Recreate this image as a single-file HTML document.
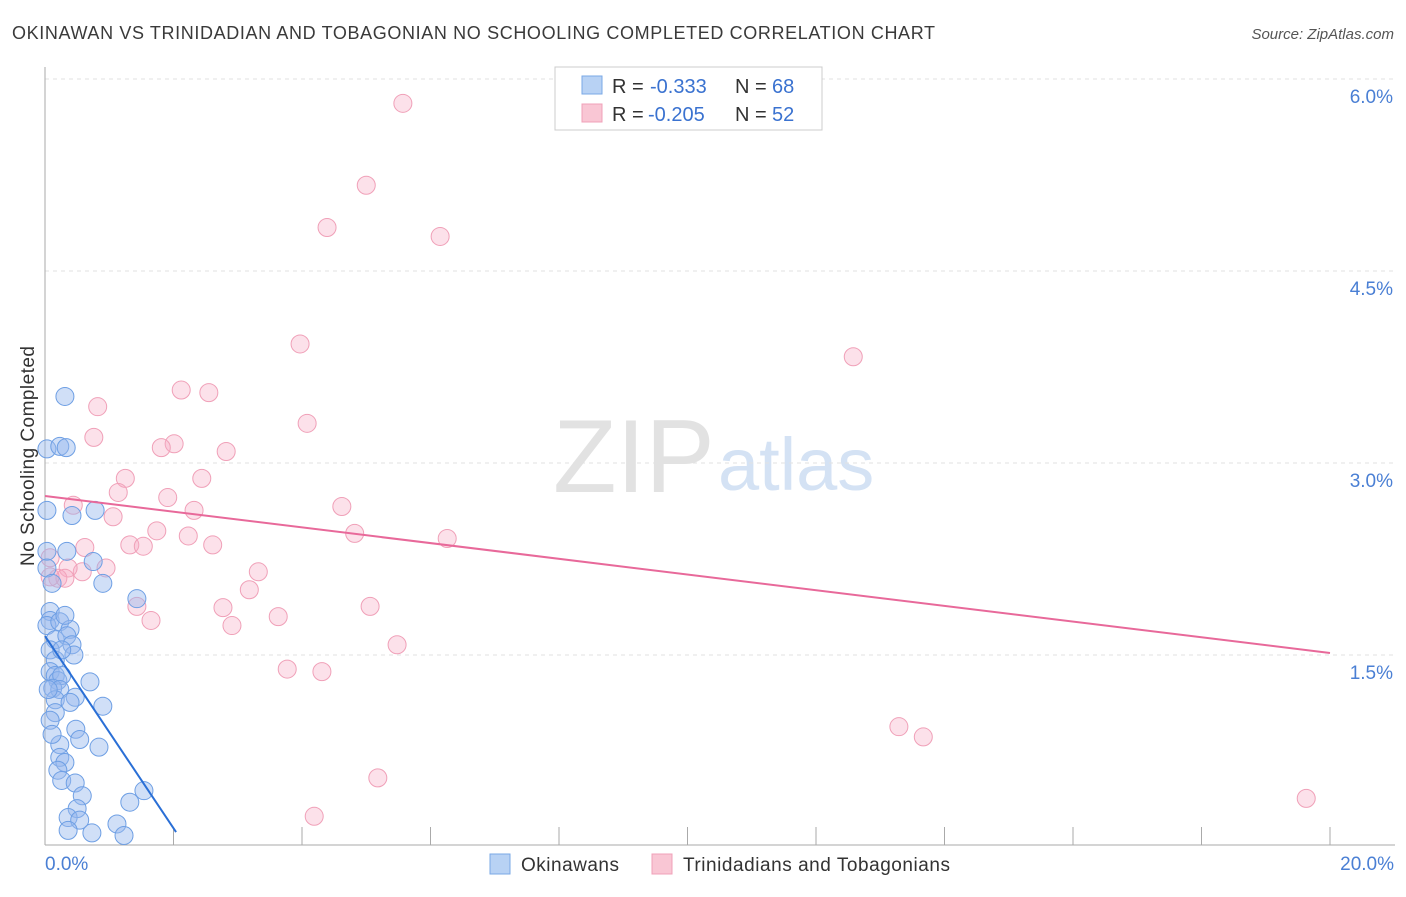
<!DOCTYPE html>
<html><head><meta charset="utf-8"><style>
body{margin:0;background:#fff;font-family:"Liberation Sans",sans-serif;}
svg text{font-family:"Liberation Sans",sans-serif;}
</style></head><body>
<svg width="1406" height="892">
<text x="12" y="39" font-size="18" fill="#3a3a3a" textLength="923" lengthAdjust="spacing">OKINAWAN VS TRINIDADIAN AND TOBAGONIAN NO SCHOOLING COMPLETED CORRELATION CHART</text>
<text x="1394" y="39" font-size="15" fill="#555" font-style="italic" text-anchor="end">Source: ZipAtlas.com</text>
<text x="553" y="492" font-size="104" fill="#e2e2e2" font-family="Liberation Serif">ZIP</text>
<text x="718" y="490" font-size="74" fill="#d4e2f4">atlas</text>
<g id="grid"></g>
<g id="axes"></g>
<g id="marks"></g>
<text transform="translate(34,456) rotate(-90)" font-size="19" fill="#333" text-anchor="middle" textLength="220">No Schooling Completed</text>
<text x="45" y="870" font-size="19" fill="#4a7fd4">0.0%</text>
<text x="1394" y="870" font-size="19" fill="#4a7fd4" text-anchor="end">20.0%</text>
<g>
<rect x="555" y="67" width="267" height="63" fill="#fff" stroke="#ccc"/>
<rect x="582" y="76" width="20" height="18" fill="#b8d2f4" stroke="#7aa8e6"/>
<rect x="582" y="104" width="20" height="18" fill="#f9c6d4" stroke="#f0a0b8"/>
<text x="612" y="93" font-size="20" fill="#333">R =</text>
<text x="650" y="93" font-size="20" fill="#3a72d0">-0.333</text>
<text x="735" y="93" font-size="20" fill="#333">N =</text>
<text x="772" y="93" font-size="20" fill="#3a72d0">68</text>
<text x="612" y="121" font-size="20" fill="#333">R =</text>
<text x="648" y="121" font-size="20" fill="#3a72d0">-0.205</text>
<text x="735" y="121" font-size="20" fill="#333">N =</text>
<text x="772" y="121" font-size="20" fill="#3a72d0">52</text>
</g>
<g>
<rect x="490" y="854" width="20" height="20" fill="#b8d2f4" stroke="#7aa8e6"/>
<text x="521" y="871" font-size="19" fill="#333" textLength="98">Okinawans</text>
<rect x="652" y="854" width="20" height="20" fill="#f9c6d4" stroke="#f0a0b8"/>
<text x="683" y="871" font-size="19" fill="#333" textLength="267">Trinidadians and Tobagonians</text>
</g>
</svg>
<script>
const yTicks=[1.5,3.0,4.5,6.0];
const xTicks=[0,2,4,6,8,10,12,14,16,18,20];
const blueX=[0.31,0.03,0.23,0.33,0.03,0.42,0.78,0.03,0.34,0.75,0.03,0.11,0.90,1.43,0.08,0.08,0.03,0.23,0.39,0.16,0.34,0.42,0.08,0.45,0.16,0.08,0.16,0.20,0.26,0.12,0.23,0.47,0.70,0.90,0.16,0.39,0.16,0.08,0.48,0.54,0.84,0.23,0.23,0.31,0.20,0.26,0.47,0.58,0.50,0.36,0.54,1.32,1.54,0.36,0.73,1.12,1.23,0.05,0.11,0.26,0.31];
const blueY=[3.52,3.11,3.13,3.12,2.63,2.59,2.63,2.31,2.31,2.23,2.18,2.06,2.06,1.94,1.84,1.77,1.73,1.76,1.70,1.62,1.65,1.58,1.54,1.50,1.46,1.37,1.34,1.30,1.34,1.24,1.23,1.17,1.29,1.10,1.15,1.13,1.05,0.99,0.92,0.84,0.78,0.80,0.70,0.66,0.60,0.52,0.50,0.40,0.30,0.23,0.21,0.35,0.44,0.13,0.11,0.18,0.09,1.23,0.88,1.54,1.81];
const pinkX=[5.57,5.00,4.39,6.15,3.97,12.58,2.12,2.55,0.82,0.76,4.08,2.01,1.81,2.82,1.25,2.44,1.14,1.91,0.44,1.06,2.32,4.62,1.74,2.23,4.82,6.26,0.62,1.32,1.53,2.61,0.08,0.95,0.58,0.36,3.32,0.20,0.31,0.08,3.18,1.43,2.77,5.06,1.65,2.91,3.63,5.48,3.77,4.31,13.29,13.67,5.18,4.19,19.63];
const pinkY=[5.81,5.17,4.84,4.77,3.93,3.83,3.57,3.55,3.44,3.20,3.31,3.15,3.12,3.09,2.88,2.88,2.77,2.73,2.67,2.58,2.63,2.66,2.47,2.43,2.45,2.41,2.34,2.36,2.35,2.36,2.26,2.18,2.15,2.18,2.15,2.10,2.10,2.11,2.01,1.88,1.87,1.88,1.77,1.73,1.80,1.58,1.39,1.37,0.94,0.86,0.54,0.24,0.38];
const blueTrend=[[0,1.648],[2.04,0.117]];
const pinkTrend=[[0,2.742],[20,1.516]];
const NS="http://www.w3.org/2000/svg";
const X=v=>45+v*64.25, Y=v=>847-v*128;
function mk(tag,attrs,parent){const e=document.createElementNS(NS,tag);for(const k in attrs)e.setAttribute(k,attrs[k]);parent.appendChild(e);return e;}
const grid=document.getElementById('grid'),axes=document.getElementById('axes'),marks=document.getElementById('marks');
yTicks.forEach(t=>{
 const l=mk('line',{x1:45,x2:1395,y1:Y(t),y2:Y(t),stroke:'#e2e2e2','stroke-dasharray':'4,4'},grid);
 
 
 const tx=mk('text',{x:1393,y:Y(t)+24,'font-size':19,fill:'#4a7fd4','text-anchor':'end'},grid);
 tx.textContent=t.toFixed(1)+'%';
 
 
});
const ax=mk('line',{x1:45,x2:45,y1:67,y2:845,stroke:'#aaa'},axes);


const bx=mk('line',{x1:45,x2:1395,y1:845,y2:845,stroke:'#aaa'},axes);


xTicks.forEach(t=>{
 const l=mk('line',{x1:X(t),x2:X(t),y1:827,y2:845,stroke:'#aaa'},axes);
 
 
});
function pts(xs,ys,fill,stroke,name){xs.forEach((x,i)=>{
 const c=mk('circle',{cx:X(x),cy:Y(ys[i]),r:9,fill:fill,stroke:stroke,'stroke-width':1},marks);
 
 
});}
pts(pinkX,pinkY,'rgba(246,170,195,0.35)','#f0a0b8','trinidadian-point');
pts(blueX,blueY,'rgba(150,185,238,0.45)','#6e9fe4','okinawan-point');
const bl=mk('line',{x1:X(blueTrend[0][0]),y1:Y(blueTrend[0][1]),x2:X(blueTrend[1][0]),y2:Y(blueTrend[1][1]),stroke:'#2a6fd6','stroke-width':2},marks);


const pl=mk('line',{x1:X(pinkTrend[0][0]),y1:Y(pinkTrend[0][1]),x2:X(pinkTrend[1][0]),y2:Y(pinkTrend[1][1]),stroke:'#e8699a','stroke-width':2},marks);


</script>
</body></html>
